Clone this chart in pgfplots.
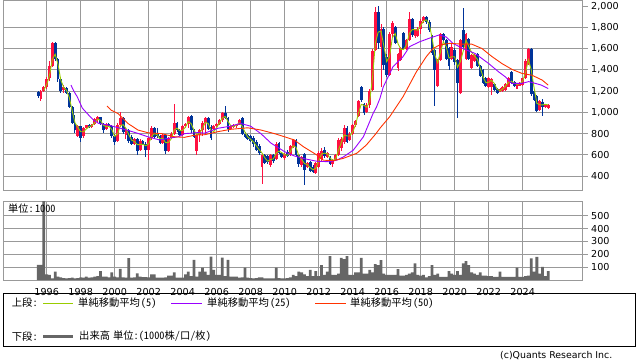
\documentclass[border=0pt]{standalone}
\usepackage{pgfplots}
\pgfplotsset{compat=1.18}
\usepackage{pgfplotstable}
\usepackage{fontspec}
\setmainfont{DejaVu Sans}
\newfontfamily\jp[RawFeature=+hwid]{Noto Sans CJK JP}
\definecolor{upred}{RGB}{255,16,64}
\definecolor{dnblue}{RGB}{0,51,153}
\definecolor{maA}{RGB}{153,204,0}
\definecolor{maB}{RGB}{153,0,255}
\definecolor{maC}{RGB}{255,51,0}
\definecolor{gridgray}{RGB}{153,153,153}
\definecolor{volgray}{RGB}{102,102,102}
\pgfplotstableread{
t o h l c
1995.5 1190 1200 1140 1150
1995.667 1130 1215 1110 1205
1995.833 1205 1250 1190 1240
1996.0 1240 1330 1225 1310
1996.167 1320 1480 1300 1440
1996.333 1440 1665 1430 1650
1996.5 1650 1665 1480 1500
1996.667 1500 1510 1290 1310
1996.833 1310 1320 1180 1200
1997.0 1210 1260 1180 1240
1997.167 1230 1240 1170 1180
1997.333 1180 1190 1040 1050
1997.5 1050 1060 890 900
1997.667 900 980 810 830
1997.833 780 880 770 870
1998.0 870 875 720 760
1998.167 780 860 760 850
1998.333 850 885 840 880
1998.5 880 890 850 860
1998.667 860 895 850 890
1998.833 890 950 880 940
1999.0 930 965 900 955
1999.167 955 960 880 890
1999.333 890 900 810 830
1999.5 840 900 835 890
1999.667 890 900 860 870
1999.833 870 880 760 780
2000.0 780 800 690 720
2000.167 730 900 720 880
2000.333 880 1000 860 950
2000.5 950 960 800 820
2000.667 790 850 750 830
2000.833 830 840 710 730
2001.0 770 790 690 700
2001.167 700 760 690 750
2001.333 750 760 600 640
2001.5 650 750 640 730
2001.667 730 740 690 700
2001.833 700 720 580 650
2002.0 650 770 550 760
2002.167 760 870 740 850
2002.333 850 860 760 770
2002.5 800 850 760 780
2002.667 780 790 700 710
2002.833 710 800 700 790
2003.0 790 790 610 640
2003.167 640 770 630 760
2003.333 760 820 750 800
2003.5 800 1080 790 900
2003.667 900 910 820 830
2003.833 830 840 780 790
2004.0 790 880 780 870
2004.167 870 900 850 890
2004.333 890 970 850 960
2004.5 970 980 810 830
2004.667 830 840 760 770
2004.833 640 800 600 790
2005.0 790 840 720 830
2005.167 830 920 780 900
2005.333 900 960 800 950
2005.5 950 960 830 840
2005.667 860 880 740 760
2005.833 840 880 830 870
2006.0 870 900 860 890
2006.167 890 940 880 930
2006.333 930 1000 910 990
2006.5 990 1060 940 950
2006.667 950 960 820 840
2006.833 840 880 830 870
2007.0 860 890 850 880
2007.167 870 890 850 885
2007.333 885 940 880 930
2007.5 950 960 790 800
2007.667 800 820 760 770
2007.833 790 800 740 750
2008.0 780 790 720 730
2008.167 760 780 670 700
2008.333 720 740 640 650
2008.5 680 700 600 620
2008.667 490 610 330 600
2008.833 600 610 510 520
2009.0 590 600 510 530
2009.167 500 610 490 600
2009.333 600 610 520 540
2009.5 560 720 550 700
2009.667 710 720 610 620
2009.833 620 630 570 580
2010.0 570 620 550 610
2010.167 630 650 580 590
2010.333 600 690 590 680
2010.5 670 750 660 740
2010.667 740 745 580 600
2010.833 600 610 490 510
2011.0 500 590 490 580
2011.167 610 620 320 460
2011.333 490 530 480 520
2011.5 530 540 440 450
2011.667 490 500 430 440
2011.833 430 530 420 520
2012.0 490 640 480 620
2012.167 560 660 540 640
2012.333 650 670 570 590
2012.5 580 630 570 620
2012.667 580 590 500 510
2012.833 510 560 490 550
2013.0 550 610 540 600
2013.167 600 760 590 740
2013.333 660 770 640 750
2013.5 720 880 700 850
2013.667 850 870 710 720
2013.833 740 820 730 800
2014.0 800 890 790 880
2014.167 880 930 860 920
2014.333 970 1120 960 1110
2014.5 1240 1250 1100 1120
2014.667 1080 1090 980 990
2014.833 1000 1085 990 1070
2015.0 1070 1220 1040 1200
2015.167 1210 1600 1200 1580
2015.333 1590 1990 1580 1950
2015.5 1950 2000 1600 1650
2015.667 1620 1830 1240 1790
2015.833 1790 1800 1400 1450
2016.0 1520 1550 1330 1350
2016.167 1350 1760 1340 1740
2016.333 1740 1860 1700 1840
2016.5 1800 1810 1640 1650
2016.667 1420 1560 1390 1550
2016.833 1490 1620 1480 1610
2017.0 1745 1760 1590 1600
2017.167 1600 1690 1590 1680
2017.333 1680 1950 1670 1880
2017.5 1880 1890 1710 1730
2017.667 1720 1790 1700 1780
2017.833 1720 1800 1710 1790
2018.0 1790 1880 1740 1860
2018.167 1860 1910 1840 1900
2018.333 1900 1910 1830 1850
2018.5 1850 1870 1760 1780
2018.667 1720 1730 1540 1560
2018.833 1590 1600 1060 1400
2019.0 1250 1500 1240 1490
2019.167 1490 1750 1480 1740
2019.333 1740 1750 1650 1680
2019.5 1680 1690 1490 1500
2019.667 1610 1620 1400 1440
2019.833 1500 1640 1490 1620
2020.0 1590 1610 1450 1470
2020.167 1490 1500 950 1280
2020.333 1180 1690 1170 1680
2020.5 1780 1980 1600 1620
2020.667 1500 1750 1490 1740
2020.833 1690 1700 1490 1500
2021.0 1420 1550 1410 1540
2021.167 1480 1550 1470 1540
2021.333 1550 1560 1430 1440
2021.5 1440 1450 1330 1340
2021.667 1400 1410 1270 1280
2021.833 1320 1330 1240 1250
2022.0 1240 1330 1230 1320
2022.167 1240 1320 1165 1310
2022.333 1270 1280 1200 1210
2022.5 1225 1230 1170 1180
2022.667 1195 1230 1190 1225
2022.833 1200 1245 1195 1240
2023.0 1210 1280 1200 1270
2023.167 1240 1330 1235 1320
2023.333 1380 1390 1270 1280
2023.5 1290 1300 1240 1250
2023.667 1225 1275 1220 1270
2023.833 1250 1290 1245 1280
2024.0 1255 1325 1250 1320
2024.167 1320 1500 1310 1480
2024.333 1460 1610 1450 1600
2024.5 1600 1610 1150 1170
2024.667 1200 1210 1110 1120
2024.833 1150 1160 1000 1010
2025.0 1020 1120 1010 1110
2025.167 1100 1130 970 1050
2025.333 1050 1080 1040 1075
2025.5 1040 1075 1030 1070
}\candles
\pgfplotstableread{
t v
1995.5 117
1995.667 117
1995.833 1000
1996.0 44
1996.167 39
1996.333 13
1996.5 65
1996.667 26
1996.833 20
1997.0 15
1997.167 13
1997.333 15
1997.5 18
1997.667 13
1997.833 15
1998.0 20
1998.167 18
1998.333 26
1998.5 18
1998.667 20
1998.833 26
1999.0 30
1999.167 70
1999.333 26
1999.5 26
1999.667 20
1999.833 60
2000.0 26
2000.167 20
2000.333 86
2000.5 20
2000.667 18
2000.833 170
2001.0 18
2001.167 20
2001.333 52
2001.5 26
2001.667 23
2001.833 23
2002.0 20
2002.167 44
2002.333 44
2002.5 18
2002.667 18
2002.833 18
2003.0 20
2003.167 34
2003.333 34
2003.5 60
2003.667 18
2003.833 18
2004.0 18
2004.167 44
2004.333 65
2004.5 30
2004.667 156
2004.833 26
2005.0 65
2005.167 96
2005.333 65
2005.5 40
2005.667 182
2005.833 78
2006.0 40
2006.167 40
2006.333 175
2006.5 30
2006.667 156
2006.833 26
2007.0 26
2007.167 26
2007.333 18
2007.5 20
2007.667 96
2007.833 18
2008.0 15
2008.167 13
2008.333 15
2008.5 20
2008.667 20
2008.833 13
2009.0 13
2009.167 13
2009.333 13
2009.5 96
2009.667 15
2009.833 13
2010.0 13
2010.167 15
2010.333 20
2010.5 39
2010.667 30
2010.833 65
2011.0 60
2011.167 44
2011.333 30
2011.5 78
2011.667 30
2011.833 70
2012.0 30
2012.167 116
2012.333 40
2012.5 65
2012.667 186
2012.833 39
2013.0 39
2013.167 50
2013.333 173
2013.5 163
2013.667 186
2013.833 39
2014.0 39
2014.167 60
2014.333 60
2014.5 173
2014.667 50
2014.833 50
2015.0 78
2015.167 60
2015.333 124
2015.5 116
2015.667 155
2015.833 50
2016.0 39
2016.167 39
2016.333 40
2016.5 40
2016.667 85
2016.833 35
2017.0 35
2017.167 40
2017.333 50
2017.5 60
2017.667 129
2017.833 40
2018.0 35
2018.167 40
2018.333 20
2018.5 30
2018.667 116
2018.833 40
2019.0 50
2019.167 25
2019.333 25
2019.5 25
2019.667 70
2019.833 50
2020.0 40
2020.167 70
2020.333 40
2020.5 129
2020.667 147
2020.833 116
2021.0 60
2021.167 50
2021.333 40
2021.5 60
2021.667 35
2021.833 35
2022.0 30
2022.167 30
2022.333 25
2022.5 25
2022.667 65
2022.833 25
2023.0 25
2023.167 25
2023.333 25
2023.5 25
2023.667 96
2023.833 25
2024.0 25
2024.167 30
2024.333 35
2024.5 168
2024.667 65
2024.833 181
2025.0 50
2025.167 103
2025.333 30
2025.5 70
}\volume
\begin{document}
\begin{tikzpicture}
\path[use as bounding box] (0,0) rectangle (638pt,-362pt);
\pgfplotsset{
  chartbase/.style={
    scale only axis, width=579.4pt,
    xmin=1993.45, xmax=2027.53,
    xtick={1996,1998,...,2024},
    grid=major,
    grid style={draw=gridgray, line width=0.9pt},
    axis line style={draw=gridgray, line width=0.9pt},
    ytick pos=right, yticklabel pos=right,
    tick align=outside,
    x tick style={draw=none},
    y tick style={draw=gridgray, line width=0.9pt},
    major tick length=5pt,
    tick label style={font=\fontsize{9.6}{11}\selectfont},
    /pgf/number format/assume math mode=true,
    yticklabel style={anchor=west},
  },
  candle/.style={draw=none, mark=none, forget plot,
    error bars/y dir=both, error bars/y explicit, error bars/error mark=none},
}
\begin{axis}[chartbase, at={(3.3pt,-0.7pt)}, anchor=north west, height=189.3pt,
  ymin=269, ymax=2052, ytick={400,600,...,1800},
  extra y ticks={2000}, extra y tick style={grid=none},
  xticklabels={}]
% rising months: wick, then body
\addplot[candle, restrict expr to domain={\thisrow{c}-\thisrow{o}}{0:100000},
  error bars/error bar style={draw=upred, line width=1pt}]
  table[x=t, y expr={(\thisrow{h}+\thisrow{l})/2}, y error expr={(\thisrow{h}-\thisrow{l})/2}] {\candles};
\addplot[candle, restrict expr to domain={\thisrow{c}-\thisrow{o}}{0:100000},
  error bars/error bar style={draw=upred, line width=2.8pt}]
  table[x=t, y expr={(\thisrow{o}+\thisrow{c})/2}, y error expr={abs(\thisrow{c}-\thisrow{o})/2}] {\candles};
% falling months
\addplot[candle, restrict expr to domain={\thisrow{c}-\thisrow{o}}{-100000:-0.01},
  error bars/error bar style={draw=dnblue, line width=1pt}]
  table[x=t, y expr={(\thisrow{h}+\thisrow{l})/2}, y error expr={(\thisrow{h}-\thisrow{l})/2}] {\candles};
\addplot[candle, restrict expr to domain={\thisrow{c}-\thisrow{o}}{-100000:-0.01},
  error bars/error bar style={draw=dnblue, line width=2.8pt}]
  table[x=t, y expr={(\thisrow{o}+\thisrow{c})/2}, y error expr={abs(\thisrow{c}-\thisrow{o})/2}] {\candles};
% MA 5
\addplot[maA, line width=0.9pt, mark=none] coordinates {
(1995.833,1208)(1996.0,1261)(1996.167,1348)(1996.333,1498)(1996.5,1548)(1996.667,1454)(1996.833,1304)
(1997.0,1238)(1997.167,1208)(1997.333,1140)(1997.5,1016)(1997.667,902)(1997.833,860)
(1998.0,818)(1998.167,818)(1998.333,844)(1998.5,866)(1998.667,876)(1998.833,904)
(1999.0,936)(1999.167,926)(1999.333,879)(1999.5,866)(1999.667,870)(1999.833,838)
(2000.0,774)(2000.167,796)(2000.333,876)(2000.5,884)(2000.667,850)(2000.833,788)
(2001.0,738)(2001.167,726)(2001.333,696)(2001.5,698)(2001.667,700)(2001.833,686)
(2002.0,704)(2002.167,774)(2002.333,800)(2002.5,790)(2002.667,750)(2002.833,756)
(2003.0,714)(2003.167,718)(2003.333,752)(2003.5,832)(2003.667,852)(2003.833,828)
(2004.0,830)(2004.167,862)(2004.333,914)(2004.5,894)(2004.667,832)(2004.833,790)
(2005.0,802)(2005.167,850)(2005.333,906)(2005.5,896)(2005.667,830)(2005.833,820)
(2006.0,856)(2006.167,902)(2006.333,946)(2006.5,962)(2006.667,914)(2006.833,874)
(2007.0,868)(2007.167,880)(2007.333,902)(2007.5,869)(2007.667,814)(2007.833,768)
(2008.0,746)(2008.167,722)(2008.333,686)(2008.5,648)(2008.667,618)(2008.833,572)
(2009.0,540)(2009.167,556)(2009.333,562)(2009.5,616)(2009.667,636)(2009.833,620)
(2010.0,600)(2010.167,596)(2010.333,630)(2010.5,686)(2010.667,672)(2010.833,592)
(2011.0,556)(2011.167,518)(2011.333,508)(2011.5,480)(2011.667,460)(2011.833,474)
(2012.0,544)(2012.167,608)(2012.333,616)(2012.5,612)(2012.667,570)(2012.833,548)
(2013.0,562)(2013.167,646)(2013.333,716)(2013.5,788)(2013.667,778)(2013.833,778)
(2014.0,816)(2014.167,880)(2014.333,988)(2014.5,1076)(2014.667,1066)(2014.833,1048)
(2015.0,1106)(2015.167,1326)(2015.333,1652)(2015.5,1756)(2015.667,1766)(2015.833,1626)
(2016.0,1478)(2016.167,1526)(2016.333,1702)(2016.5,1744)(2016.667,1648)(2016.833,1594)
(2017.0,1594)(2017.167,1634)(2017.333,1744)(2017.5,1780)(2017.667,1780)(2017.833,1774)
(2018.0,1816)(2018.167,1862)(2018.333,1872)(2018.5,1832)(2018.667,1706)(2018.833,1540)
(2019.0,1468)(2019.167,1572)(2019.333,1666)(2019.5,1620)(2019.667,1512)(2019.833,1524)
(2020.0,1524)(2020.167,1424)(2020.333,1478)(2020.5,1576)(2020.667,1680)(2020.833,1620)
(2021.0,1564)(2021.167,1532)(2021.333,1500)(2021.5,1420)(2021.667,1336)(2021.833,1280)
(2022.0,1284)(2022.167,1302)(2022.333,1272)(2022.5,1218)(2022.667,1204)(2022.833,1222)
(2023.0,1249)(2023.167,1284)(2023.333,1294)(2023.5,1276)(2023.667,1264)(2023.833,1270)
(2024.0,1294)(2024.167,1376)(2024.333,1496)(2024.5,1404)(2024.667,1236)(2024.833,1086)
(2025.0,1072)(2025.167,1070)(2025.333,1076)(2025.5,1070)};
% MA 25
\addplot[maB, line width=0.9pt, mark=none] coordinates {
(1997.43,1257)(1997.6,1200)(1997.8,1147)(1998.1,1040)(1998.47,975)(1998.76,928)(1999.06,896)
(1999.65,880)(2000.2,856)(2000.8,830)(2001.37,802)(2001.96,770)(2002.65,740)(2003.14,755)
(2003.73,770)(2004.12,800)(2004.9,810)(2005.3,805)(2006.06,850)(2006.8,870)(2007.4,896)
(2008.0,870)(2008.6,800)(2009.2,710)(2010.0,630)(2010.3,607)(2010.57,590)(2011.1,566)
(2011.88,540)(2012.67,535)(2013.06,550)(2013.45,580)(2014.04,645)(2014.63,770)(2015.2,990)
(2015.4,1050)(2015.6,1130)(2015.8,1240)(2016.37,1430)(2016.96,1525)(2017.35,1620)(2017.94,1665)
(2018.53,1700)(2019.1,1730)(2019.5,1710)(2019.9,1650)(2020.5,1600)(2021.2,1555)(2022.0,1460)
(2022.6,1380)(2022.98,1335)(2023.37,1273)(2023.96,1273)(2024.35,1290)(2024.75,1273)
(2025.1,1257)(2025.5,1225)};
% MA 50
\addplot[maC, line width=0.9pt, mark=none] coordinates {
(1999.55,1060)(1999.8,1020)(2000.19,990)(2000.78,896)(2001.37,834)(2001.96,808)(2002.75,800)
(2003.53,770)(2004.1,765)(2004.7,785)(2005.3,790)(2006.06,818)(2006.8,840)(2007.82,855)
(2008.6,834)(2009.4,800)(2010.0,770)(2010.57,740)(2011.1,677)(2011.88,600)(2012.27,550)
(2012.86,545)(2013.45,567)(2014.24,615)(2014.8,692)(2015.37,800)(2015.6,850)(2016.18,960)
(2016.96,1147)(2017.75,1383)(2018.33,1525)(2018.73,1602)(2019.1,1634)(2019.7,1650)
(2020.5,1643)(2021.0,1643)(2021.6,1602)(2022.2,1525)(2022.78,1460)(2023.37,1405)
(2023.96,1367)(2024.55,1350)(2025.14,1305)(2025.5,1257)};
\end{axis}
\begin{axis}[chartbase, at={(3.3pt,-201pt)}, anchor=north west, height=79pt,
  ymin=0, ymax=615, ytick={100,200,...,500},
  xticklabel style={/pgf/number format/1000 sep={}}]
\addplot[ybar, bar width=2.8pt, fill=volgray, draw=none] table[x=t, y=v] {\volume};
\node[anchor=west, inner sep=0pt, font=\jp\fontsize{10.2}{12}\selectfont] at (rel axis cs:0.008,0.9) {単位:\hspace{1.5pt}1000};
\end{axis}
% legend
\draw[black, line width=0.8pt] (3.3pt,-293pt) rectangle (635pt,-346.3pt);
\begin{scope}[every node/.style={anchor=west, inner sep=0pt, font=\jp\fontsize{10.3}{12}\selectfont}]
\node at (11.7pt,-303pt) {上段:};
\draw[maA, line width=1pt] (43pt,-303pt) -- (73pt,-303pt);
\node at (78pt,-303pt) {単純移動平均\hspace{1pt}(5)};
\draw[maB, line width=1pt] (171pt,-303pt) -- (202pt,-303pt);
\node at (207pt,-303pt) {単純移動平均\hspace{1pt}(25)};
\draw[maC, line width=1pt] (315pt,-303pt) -- (346pt,-303pt);
\node at (350pt,-303pt) {単純移動平均\hspace{1pt}(50)};
\node at (11.7pt,-336.3pt) {下段:};
\draw[volgray, line width=3.3pt] (43pt,-336.3pt) -- (73pt,-336.3pt);
\node at (79pt,-336.3pt) {出来高\hspace{3pt}単位:(1000株/口/枚)};
\end{scope}
\node[anchor=west, inner sep=0pt, font=\fontsize{9.4}{10}\selectfont] at (500pt,-356pt) {(c)Quants Research Inc.};
\end{tikzpicture}
\end{document}
